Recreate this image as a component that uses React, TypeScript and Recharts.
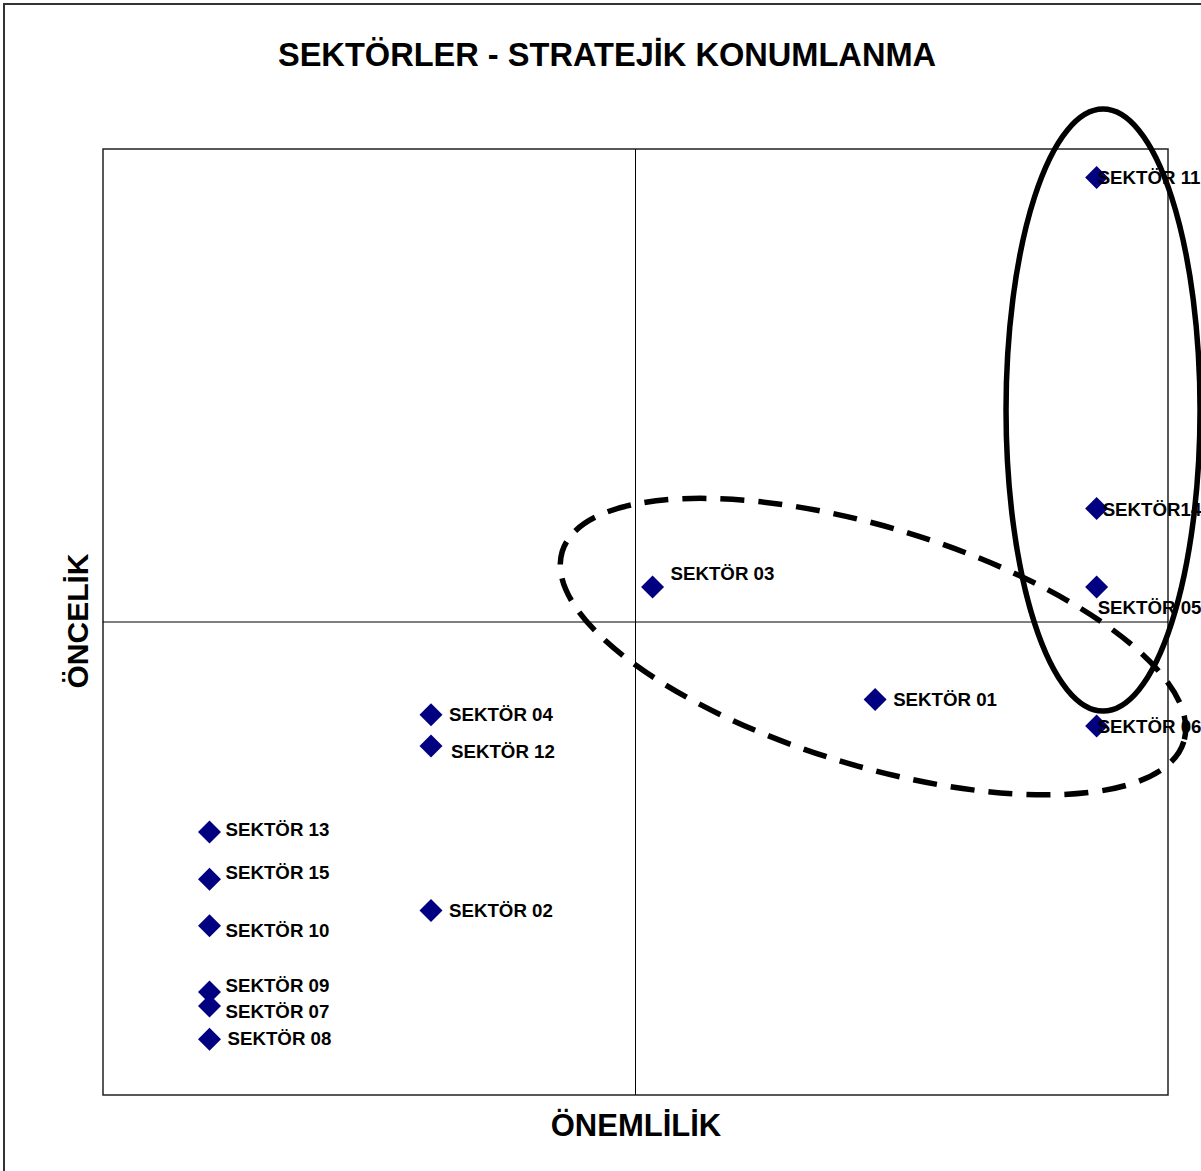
import React from 'react';
import {
  ScatterChart,
  Scatter,
  XAxis,
  YAxis,
  ReferenceLine,
  ReferenceArea,
  ReferenceDot,
} from 'recharts';

// sectors, importance (x) and priority (y)
const sectors = [
  'SEKTÖR 01', 'SEKTÖR 02', 'SEKTÖR 03', 'SEKTÖR 04', 'SEKTÖR 05',
  'SEKTÖR 06', 'SEKTÖR 07', 'SEKTÖR 08', 'SEKTÖR 09', 'SEKTÖR 10',
  'SEKTÖR 11', 'SEKTÖR 12', 'SEKTÖR 13', 'SEKTÖR14', 'SEKTÖR 15',
];
const importance = [7.25, 3.08, 5.16, 3.08, 9.33, 9.33, 1.0, 1.0, 1.0, 1.0, 9.33, 3.08, 1.0, 9.33, 1.0];
const priority = [4.18, 1.95, 5.37, 4.02, 5.37, 3.9, 0.94, 0.59, 1.09, 1.79, 9.7, 3.69, 2.78, 6.2, 2.28];

// label placement next to each marker (px)
const labelOffsets: [number, number][] = [
  [18, 0], [18, 0], [18, -13], [18, 0], [1, 21],
  [1, 0], [16, 5], [18, -1], [16, -6], [16, 5],
  [1, 0], [20, 6], [16, -3], [6, 1], [16, -7],
];

const points = sectors.map((name, i) => ({
  name,
  x: importance[i],
  y: priority[i],
  idx: i,
}));

const FONT = '"Liberation Sans", Arial, sans-serif';
const W = 1201;
const H = 1171;

const SectorShape = (props: any) => {
  const { cx, cy, payload } = props;
  if (cx == null || cy == null) return null;
  const [dx, dy] = labelOffsets[payload.idx];
  const r = 11.5;
  return (
    <g>
      <path
        d={`M${cx},${cy - r}L${cx + r},${cy}L${cx},${cy + r}L${cx - r},${cy}Z`}
        fill="#000080"
      />
      <text
        x={cx + dx}
        y={cy + dy}
        dominantBaseline="central"
        fontFamily={FONT}
        fontWeight="bold"
        fontSize={18.7}
        fill="#000"
      >
        {payload.name}
      </text>
    </g>
  );
};

const SolidEllipse = (props: any) => (
  <ellipse cx={props.cx} cy={props.cy} rx={97} ry={301} fill="none" stroke="#000" strokeWidth={5.5} />
);

const DashedEllipse = (props: any) => (
  <ellipse
    cx={props.cx}
    cy={props.cy}
    rx={325}
    ry={119}
    fill="none"
    stroke="#000"
    strokeWidth={5.5}
    strokeDasharray="24 14"
    transform={`rotate(17 ${props.cx} ${props.cy})`}
  />
);

export default function App() {
  return (
    <div style={{ position: 'absolute', left: 0, top: 0, width: W, height: H, background: '#fff', overflow: 'hidden' }}>
      <div
        style={{
          position: 'absolute',
          left: 3,
          top: 3,
          width: W + 20,
          height: H + 20,
          border: '2px solid #333',
          boxSizing: 'border-box',
        }}
      />
      <div style={{ position: 'absolute', left: 0, top: 0 }}>
        <ScatterChart width={W} height={H} margin={{ top: 149, right: 33, bottom: 76, left: 103 }}>
          <XAxis type="number" dataKey="x" domain={[0, 10]} hide />
          <YAxis type="number" dataKey="y" domain={[0, 10]} hide />
          <ReferenceArea x1={0} x2={10} y1={0} y2={10} fill="none" fillOpacity={0} stroke="#222" strokeWidth={1.5} />
          <ReferenceLine x={5} stroke="#000" strokeWidth={1} />
          <ReferenceLine y={5} stroke="#000" strokeWidth={1} />
          <Scatter data={points} shape={SectorShape} isAnimationActive={false} />
          <ReferenceDot x={9.39} y={7.24} ifOverflow="visible" shape={SolidEllipse} />
          <ReferenceDot x={7.23} y={4.74} ifOverflow="visible" shape={DashedEllipse} />
        </ScatterChart>
      </div>
      <svg width={W} height={H} style={{ position: 'absolute', left: 0, top: 0, pointerEvents: 'none' }}>
        <text x={607} y={66} textAnchor="middle" fontFamily={FONT} fontWeight="bold" fontSize={32.6} fill="#000">
          SEKTÖRLER - STRATEJİK KONUMLANMA
        </text>
        <text x={636} y={1136} textAnchor="middle" fontFamily={FONT} fontWeight="bold" fontSize={31} fill="#000">
          ÖNEMLİLİK
        </text>
        <text
          x={88}
          y={621}
          textAnchor="middle"
          fontFamily={FONT}
          fontWeight="bold"
          fontSize={30}
          fill="#000"
          transform="rotate(-90 88 621)"
        >
          ÖNCELİK
        </text>
      </svg>
    </div>
  );
}
